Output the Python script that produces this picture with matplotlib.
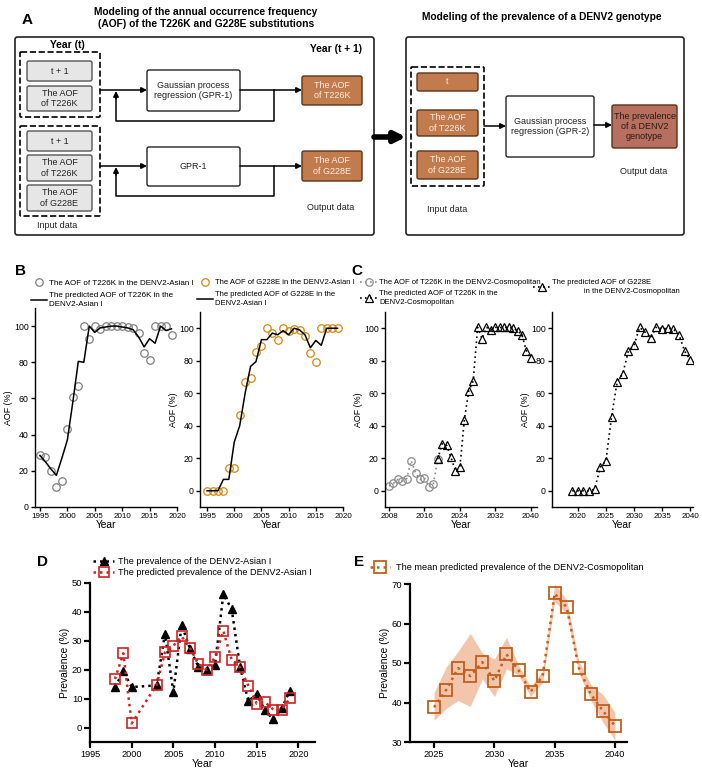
import matplotlib
matplotlib.use("Agg")
import matplotlib.pyplot as plt
from matplotlib.patches import FancyBboxPatch

plt.rcParams['font.family'] = ['Liberation Sans', 'DejaVu Sans']

W, H = 702, 775

# ---------------- data ----------------
years_b = list(range(1995, 2020))
aof_t226k_asian = [28.5, 27.5, 20, 11, 14.5, 43, 61, 67, 100, 93, 100, 98.5, 100,
                   100, 100, 100, 99.5, 99, 96, 85, 81, 100, 100, 100, 95]
pred_t226k_asian = [28.5, 25, 21, 17.5, 27, 37, 58, 80.5, 80, 100, 96.5, 99, 99.5,
                    100, 100, 99.5, 99, 98, 94, 88.5, 93, 90.5, 100, 97.5, 98.5]
aof_g228e_asian = [0, 0, 0, 0, 14, 14, 46.5, 67, 69.5, 85.5, 89, 100, 97, 93,
                   100, 98.5, 99.5, 99, 95.5, 85, 79, 100, 100, 100, 100]
pred_g228e_asian = [0, 0, 0, 7, 7, 30, 40, 60, 76.5, 79.5, 93, 93, 97, 96, 98.5,
                    96, 100, 99, 96, 88, 92.5, 89.5, 100, 100, 100]

years_c_obs = list(range(2008, 2020))
aof_t226k_cosmo = [3, 4.5, 7, 6, 7.5, 18.5, 11, 7, 8, 2.5, 4, 19.5]
years_c_pred = list(range(2019, 2041))
pred_t226k_cosmo = [19.5, 29, 28, 20.5, 12, 14.5, 43.5, 61.5, 67.5, 100.5, 93.5,
                    100.5, 99, 100.5, 100.5, 100.5, 100.5, 100, 98.5, 96, 86, 81.5]
pred_g228e_cosmo = [0, 0, 0, 0, 1, 14.5, 18.5, 45.5, 67, 72, 86, 89.5, 100.5,
                    97.5, 94, 101, 99.5, 100, 99.5, 96, 86, 80.5]

years_d = [1998, 1999, 2000] + list(range(2003, 2020))
prev_asian = [14, 19.4, 14, 14.6, 32.4, 12.3, 35.5, 27.3, 21.1, 19.8, 21.7, 46.1,
              41, 21.1, 9.1, 11.6, 5.9, 2.8, 6.6, 12.8]
pred_prev_asian = [16.8, 25.7, 1.4, 14.8, 26, 28.3, 31.5, 27.5, 22, 20, 24.4, 33.4,
                   23.4, 20.8, 14.5, 8.3, 8.8, 6.2, 6.2, 10.2]

years_e = list(range(2025, 2041))
mean_prev_cosmo = [38.8, 43.2, 48.7, 46.7, 50.2, 45.5, 52.2, 48.2, 42.7, 46.7,
                   67.6, 64.1, 48.8, 42.1, 37.9, 34.1]
low_prev_cosmo = [35.5, 38.5, 40.5, 39, 46, 41.5, 48.5, 47, 41.5, 45, 65.5, 62.5,
                  47.5, 40.5, 35, 30.5]
high_prev_cosmo = [42.5, 49, 53, 57.5, 52.5, 51, 56.5, 49.5, 44, 48, 70, 66,
                   50.5, 44.5, 42, 37.5]

# ---------------- figure ----------------
fig = plt.figure(figsize=(W / 100, H / 100), dpi=100)
fig.patch.set_facecolor('white')

ax0 = fig.add_axes([0, 0, 1, 1])
ax0.set_xlim(0, W)
ax0.set_ylim(H, 0)
ax0.axis('off')


def box(x0, y0, x1, y1, fc='white', ec='#222222', lw=1.0, ls='-', r=2.0, z=2):
    ax0.add_patch(FancyBboxPatch((x0, y0), x1 - x0, y1 - y0,
                                 boxstyle="round,pad=0,rounding_size=%s" % r,
                                 fc=fc, ec=ec, lw=lw, ls=ls, zorder=z))


def label(x, y, s, size=6.5, color='#222222', weight='normal', ha='center'):
    ax0.text(x, y, s, fontsize=size, color=color, weight=weight, ha=ha,
             va='center', linespacing=1.2, zorder=5)


def arrow(x0, y0, x1, y1, lw=1.1, ms=8):
    ax0.annotate('', xy=(x1, y1), xytext=(x0, y0),
                 arrowprops=dict(arrowstyle='-|>', color='black', lw=lw,
                                 mutation_scale=ms, shrinkA=0, shrinkB=0), zorder=4)


gray_fc, gray_ec = '#e6e6e6', '#555555'
brown_fc, brown_ec = '#c27b4c', '#5a3218'
brown_txt = '#fbeee4'

# panel A
ax0.text(27, 20, 'A', fontsize=11, weight='bold', ha='center', va='center')
label(206, 12, 'Modeling of the annual occurrence frequency', 7.4, 'black', 'bold')
label(206, 24, '(AOF) of the T226K and G228E substitutions', 7.4, 'black', 'bold')
label(542, 17, 'Modeling of the prevalence of a DENV2 genotype', 7.4, 'black', 'bold')

box(15, 37, 374, 235, lw=1.2, r=2.5, z=1)
box(406, 37, 684, 235, lw=1.2, r=2.5, z=1)
arrow(374, 137, 406, 137, lw=4, ms=16)

label(67, 45, 'Year (t)', 7.4, 'black', 'bold')
label(362, 49, 'Year (t + 1)', 7.4, 'black', 'bold', ha='right')

box(20, 52, 100, 117, fc='none', ec='black', lw=1.2, ls='--', r=1)
box(27, 61, 92, 81, gray_fc, gray_ec)
label(59.5, 71, 't + 1')
box(27, 86, 92, 111, gray_fc, gray_ec)
label(59.5, 98.5, 'The AOF\nof T226K')

box(20, 126, 100, 216, fc='none', ec='black', lw=1.2, ls='--', r=1)
box(27, 131, 92, 151, gray_fc, gray_ec)
label(59.5, 141, 't + 1')
box(27, 155, 92, 181, gray_fc, gray_ec)
label(59.5, 168, 'The AOF\nof T226K')
box(27, 185, 92, 211, gray_fc, gray_ec)
label(59.5, 198, 'The AOF\nof G228E')
label(57, 225, 'Input data')

box(147, 70, 240, 111)
label(193.5, 90.5, 'Gaussian process\nregression (GPR-1)')
box(147, 147, 240, 186)
label(193.5, 166.5, 'GPR-1')

box(302, 76, 362, 105, brown_fc, brown_ec)
label(332, 90.5, 'The AOF\nof T226K', color=brown_txt)
box(302, 151, 362, 181, brown_fc, brown_ec)
label(332, 166, 'The AOF\nof G228E', color=brown_txt)
label(331, 208, 'Output data')

for yy, yb in [(90, 121), (166, 196)]:
    arrow(100, yy, 147, yy)
    arrow(240, yy, 302, yy)
    ax0.plot([274, 274, 116, 116], [yy, yb, yb, yy + 8], color='black', lw=1.1, zorder=3)
    arrow(116, yy + 9, 116, yy + 1)

box(411, 67, 484, 186, fc='none', ec='black', lw=1.2, ls='--', r=1)
box(417, 73, 478, 91, brown_fc, brown_ec)
label(447.5, 82, 't', color=brown_txt)
box(417, 110, 478, 136, brown_fc, brown_ec)
label(447.5, 123, 'The AOF\nof T226K', color=brown_txt)
box(417, 151, 478, 179, brown_fc, brown_ec)
label(447.5, 165, 'The AOF\nof G228E', color=brown_txt)
label(447, 210, 'Input data')

box(506, 96, 594, 157)
label(550, 126.5, 'Gaussian process\nregression (GPR-2)')
box(612, 105, 677, 148, '#b76f5f', brown_ec)
label(644.5, 126.5, 'The prevalence\nof a DENV2\ngenotype', color='#2a1a14')
label(644, 172, 'Output data')
arrow(484, 126, 506, 126)
arrow(594, 125, 612, 125)

# panel letters
for s, x, y in [('B', 20, 271), ('C', 357, 271), ('D', 43, 562), ('E', 359, 562)]:
    ax0.text(x, y, s, fontsize=11, weight='bold', ha='center', va='center')


def px_axes(x0, y0, x1, y1):
    return fig.add_axes([x0 / W, 1 - y1 / H, (x1 - x0) / W, (y1 - y0) / H])


def style(ax, xtick_fs=5.8, ytick_fs=6.3, lab_fs=7.4, ylab='AOF (%)', spine_w=1.0,
          ylab_fs=6.4, tl=3):
    ax.patch.set_alpha(0)
    for s in ['top', 'right']:
        ax.spines[s].set_visible(False)
    for s in ['left', 'bottom']:
        ax.spines[s].set_linewidth(spine_w)
    ax.tick_params(direction='out', length=tl, width=spine_w, pad=1.5)
    ax.tick_params(axis='x', labelsize=xtick_fs)
    ax.tick_params(axis='y', labelsize=ytick_fs)
    ax.set_xlabel('Year', fontsize=lab_fs, labelpad=0)
    ax.set_ylabel(ylab, fontsize=ylab_fs, labelpad=1)


def legend(ax, handles, labels, x, y, fs=5.8, hl=2.0, htp=0.25, ls=0.65):
    leg = ax.legend(handles, labels, loc='upper left', bbox_to_anchor=(x / W, 1 - y / H),
                    bbox_transform=fig.transFigure, frameon=False, fontsize=fs,
                    borderpad=0, borderaxespad=0, handlelength=hl,
                    handletextpad=htp, labelspacing=ls)
    for t in leg.get_texts():
        t.set_linespacing(1.4)
    return leg


# panel B
axb1 = px_axes(35, 308, 177, 507)
o1, = axb1.plot(years_b, aof_t226k_asian, 'o', ms=5.4, mfc='none', mec='#808080', mew=0.9)
l1, = axb1.plot(years_b, pred_t226k_asian, color='black', lw=1.1)
axb1.set_xlim(1994.1, 2020)
axb1.set_ylim(0, 110)
axb1.set_xticks(range(1995, 2021, 5))
axb1.set_yticks(range(0, 101, 20))
style(axb1)
legend(axb1, [o1, l1], ['The AOF of T226K in the DENV2-Asian I',
                        'The predicted AOF of T226K in the\nDENV2-Asian I'], 31, 279)

axb2 = px_axes(200, 312, 343, 507)
o2, = axb2.plot(years_b, aof_g228e_asian, 'o', ms=5.4, mfc='none', mec='#d4870e', mew=0.9)
l2, = axb2.plot(years_b, pred_g228e_asian, color='black', lw=1.1)
axb2.set_xlim(1993.7, 2020)
axb2.set_ylim(-10, 110)
axb2.set_xticks(range(1995, 2021, 5))
axb2.set_yticks(range(0, 101, 20))
style(axb2)
legend(axb2, [o2, l2], ['The AOF of G228E in the DENV2-Asian I',
                        'The predicted AOF of G228E in the\nDENV2-Asian I'], 197, 279,
       fs=5.5, hl=2.15)

# panel C
axc1 = px_axes(385, 312, 537, 507)
o3, = axc1.plot(years_c_obs, aof_t226k_cosmo, 'o', ls=(0, (1, 2)), color='#8c8c8c',
                lw=1.2, ms=5.4, mfc='none', mec='#8c8c8c', mew=0.9)
t3, = axc1.plot(years_c_pred, pred_t226k_cosmo, '^', ls=(0, (1, 2)), color='black',
                lw=1.2, ms=6.2, mfc='none', mec='black', mew=0.9)
axc1.set_xlim(2007.1, 2041.4)
axc1.set_ylim(-10, 110)
axc1.set_xticks(range(2008, 2041, 8))
axc1.set_yticks(range(0, 101, 20))
style(axc1)
legend(axc1, [o3, t3], ['The AOF of T226K in the DENV2-Cosmopolitan',
                        'The predicted AOF of T226K in the\nDENV2-Cosmopolitan'],
       360, 279, fs=5.5, hl=2.3, ls=0.45)

axc2 = px_axes(552, 312, 693, 507)
t4, = axc2.plot(years_c_pred, pred_g228e_cosmo, '^', ls=(0, (1, 2)), color='black',
                lw=1.2, ms=6.2, mfc='none', mec='black', mew=0.9)
axc2.set_xlim(2015.4, 2040.5)
axc2.set_ylim(-10, 110)
axc2.set_xticks(range(2020, 2041, 5))
axc2.set_yticks(range(0, 101, 20))
style(axc2)
legend(axc2, [t4], ['The predicted AOF of G228E\n' + ' ' * 15 + 'in the DENV2-Cosmopolitan'],
       533, 279, fs=5.5, hl=2.3)

# panel D
axd = px_axes(90, 583, 315, 742)
td, = axd.plot(years_d, prev_asian, '^', ls=(0, (1, 1.6)), color='black', lw=1.8,
               ms=6.2, mfc='black', mec='black')
sd, = axd.plot(years_d, pred_prev_asian, 's', ls=(0, (1, 1.6)), color='#cc2424',
               lw=1.8, ms=7.2, mfc='none', mec='#cc2424', mew=1.2)
axd.set_xlim(1995, 2022)
axd.set_ylim(-5, 50)
axd.set_xticks(range(1995, 2021, 5))
axd.set_yticks(range(0, 51, 10))
style(axd, xtick_fs=6.6, ytick_fs=6.8, lab_fs=7.6, ylab='Prevalence (%)', spine_w=1.6,
      ylab_fs=7.4, tl=4)
legend(axd, [td, sd], ['The prevalence of the DENV2-Asian I',
                       'The predicted prevalence of the DENV2-Asian I'],
       93, 557, fs=6.6, hl=2.3, htp=0.45, ls=0.2)

# panel E
axe = px_axes(410, 584, 627, 742)
axe.fill_between(years_e, low_prev_cosmo, high_prev_cosmo, color='#f3c6ab', lw=0)
se, = axe.plot(years_e, mean_prev_cosmo, 's', ls=(0, (1, 1.6)), color='#c0601e',
               lw=1.8, ms=8.2, mfc='none', mec='#c0601e', mew=1.3)
axe.set_xlim(2023, 2041)
axe.set_ylim(30, 70)
axe.set_xticks(range(2025, 2041, 5))
axe.set_yticks(range(30, 71, 10))
style(axe, xtick_fs=6.6, ytick_fs=6.8, lab_fs=7.6, ylab='Prevalence (%)', spine_w=1.6,
      ylab_fs=7.4, tl=4)
legend(axe, [se], ['The mean predicted prevalence of the DENV2-Cosmopolitan'],
       370, 563, fs=6.6, hl=2.2, htp=0.6)

fig.savefig('out.png', dpi=100, facecolor='white')
